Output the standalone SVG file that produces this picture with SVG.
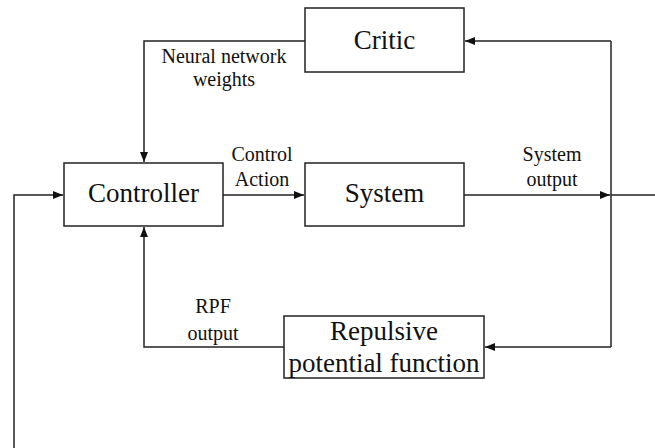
<svg xmlns="http://www.w3.org/2000/svg" width="655" height="448" viewBox="0 0 655 448">
<defs>
<marker id="ah" markerWidth="10" markerHeight="8" refX="10" refY="4" orient="auto" markerUnits="userSpaceOnUse">
<path d="M0,0 L10,4 L0,8 z" fill="#111"/>
</marker>
<style>
.box{fill:#fff;stroke:#222;stroke-width:1.5}
.c{fill:none;stroke:#222;stroke-width:1.5}
.t{font-family:"Liberation Serif","Times New Roman",serif;font-size:27px;fill:#111;text-anchor:middle}
.l{font-family:"Liberation Serif","Times New Roman",serif;font-size:20px;fill:#111;text-anchor:middle}
</style>
</defs>
<rect width="655" height="448" fill="#fff"/>
<g id="connectors">
<path class="c" d="M305,41 H144 V162" marker-end="url(#ah)"/>
<path class="c" d="M284,347 H144 V227" marker-end="url(#ah)"/>
<path class="c" d="M14,448 V195 H63" marker-end="url(#ah)"/>
<path class="c" d="M223,195 H304" marker-end="url(#ah)"/>
<path class="c" d="M464,195 H610" marker-end="url(#ah)"/>
<path class="c" d="M611,195 H655"/>
<path class="c" d="M611,41 V347"/>
<path class="c" d="M611,41 H465" marker-end="url(#ah)"/>
<path class="c" d="M611,347 H485" marker-end="url(#ah)"/>
<text class="l" x="224" y="63">Neural network</text>
<text class="l" x="224" y="86">weights</text>
<text class="l" x="262" y="161">Control</text>
<text class="l" x="262" y="186">Action</text>
<text class="l" x="552" y="161">System</text>
<text class="l" x="552" y="186">output</text>
<text class="l" x="213" y="313">RPF</text>
<text class="l" x="213" y="340">output</text>
</g>
<g id="critic">
<rect class="box" x="305" y="8" width="159" height="64"/>
<text class="t" x="384.5" y="49">Critic</text>
</g>
<g id="controller">
<rect class="box" x="64" y="163" width="159" height="63"/>
<text class="t" x="143.5" y="202">Controller</text>
</g>
<g id="system">
<rect class="box" x="305" y="163" width="159" height="63"/>
<text class="t" x="384.5" y="202">System</text>
</g>
<g id="rpf">
<rect class="box" x="284" y="316" width="200" height="62"/>
<text class="t" x="384" y="340">Repulsive</text>
<text class="t" x="384" y="372">potential function</text>
</g>
</svg>
